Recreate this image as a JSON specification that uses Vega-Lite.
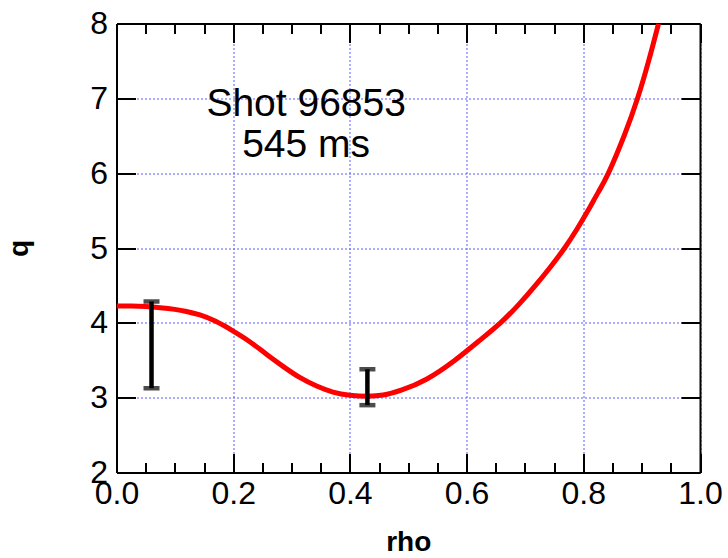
{
  "$schema": "https://vega.github.io/schema/vega-lite/v6.json",
  "width": 583.5,
  "height": 449,
  "autosize": {"type": "none"},
  "padding": {"left": 116.5, "top": 23.5, "right": 28, "bottom": 85.5},
  "background": "white",
  "config": {
    "view": {"stroke": null},
    "font": "Liberation Sans",
    "axis": {
      "labelFont": "Liberation Sans",
      "titleFont": "Liberation Sans",
      "labelColor": "black",
      "titleColor": "black",
      "domainColor": "black",
      "domainWidth": 2,
      "tickColor": "black",
      "tickWidth": 2,
      "labelFlush": false,
      "labelOverlap": false,
      "labelBound": false
    }
  },
  "datasets": {
    "profile": [
      {"rho": 0.0, "q": 4.225},
      {"rho": 0.025, "q": 4.224},
      {"rho": 0.05, "q": 4.218},
      {"rho": 0.075, "q": 4.203},
      {"rho": 0.1, "q": 4.18},
      {"rho": 0.12, "q": 4.152},
      {"rho": 0.143, "q": 4.105},
      {"rho": 0.17, "q": 4.02},
      {"rho": 0.2, "q": 3.89},
      {"rho": 0.229, "q": 3.745},
      {"rho": 0.257, "q": 3.58},
      {"rho": 0.286, "q": 3.415},
      {"rho": 0.314, "q": 3.27},
      {"rho": 0.343, "q": 3.155},
      {"rho": 0.371, "q": 3.075},
      {"rho": 0.4, "q": 3.033},
      {"rho": 0.43, "q": 3.02},
      {"rho": 0.457, "q": 3.035},
      {"rho": 0.488, "q": 3.1},
      {"rho": 0.532, "q": 3.25},
      {"rho": 0.58, "q": 3.5},
      {"rho": 0.62, "q": 3.75},
      {"rho": 0.658, "q": 4.0},
      {"rho": 0.69, "q": 4.25},
      {"rho": 0.718, "q": 4.5},
      {"rho": 0.744, "q": 4.75},
      {"rho": 0.768, "q": 5.0},
      {"rho": 0.789, "q": 5.25},
      {"rho": 0.808, "q": 5.5},
      {"rho": 0.826, "q": 5.75},
      {"rho": 0.843, "q": 6.0},
      {"rho": 0.87, "q": 6.5},
      {"rho": 0.893, "q": 7.0},
      {"rho": 0.912, "q": 7.5},
      {"rho": 0.929, "q": 8.0}
    ],
    "err": [
      {"rho": 0.06, "lo": 3.126, "hi": 4.286},
      {"rho": 0.43, "lo": 2.9, "hi": 3.38}
    ]
  },
  "resolve": {"axis": {"x": "independent", "y": "independent"}},
  "layer": [
    {
      "data": {"name": "profile"},
      "mark": {"type": "line", "color": "#ff0000", "strokeWidth": 5, "interpolate": "natural", "clip": true},
      "encoding": {
        "x": {
          "field": "rho", "type": "quantitative",
          "scale": {"domain": [0, 1], "nice": false, "zero": false},
          "axis": {
            "orient": "bottom", "values": [0, 0.2, 0.4, 0.6, 0.8, 1.0], "format": ".1f",
            "labelFontSize": 32, "labelPadding": 25, "tickSize": -19,
            "grid": true, "gridColor": "#5c5cff", "gridDash": [2, 2], "gridWidth": 1,
            "title": "rho", "titleFontSize": 28, "titleFontWeight": "bold", "titlePadding": 19
          }
        },
        "y": {
          "field": "q", "type": "quantitative",
          "scale": {"domain": [2, 8], "nice": false, "zero": false},
          "axis": {
            "orient": "left", "values": [2, 3, 4, 5, 6, 7, 8], "format": "d",
            "labelFontSize": 32, "labelPadding": 28, "tickSize": -19,
            "grid": true, "gridColor": "#5c5cff", "gridDash": [2, 2], "gridWidth": 1,
            "title": "q", "titleFontSize": 28, "titleFontWeight": "bold", "titlePadding": 56
          }
        }
      }
    },
    {
      "data": {"name": "err"},
      "mark": {"type": "rule", "color": "black", "strokeWidth": 4.5},
      "encoding": {
        "x": {
          "field": "rho", "type": "quantitative",
          "scale": {"domain": [0, 1], "nice": false, "zero": false},
          "axis": {"orient": "top", "values": [0, 0.2, 0.4, 0.6, 0.8, 1.0], "labels": false, "tickSize": -19, "grid": false, "title": null}
        },
        "y": {
          "field": "lo", "type": "quantitative",
          "scale": {"domain": [2, 8], "nice": false, "zero": false},
          "axis": {"orient": "right", "values": [2, 3, 4, 5, 6, 7, 8], "labels": false, "tickSize": -19, "grid": false, "title": null}
        },
        "y2": {"field": "hi"}
      }
    },
    {
      "data": {"name": "err"},
      "mark": {"type": "tick", "orient": "horizontal", "color": "black", "size": 16, "thickness": 4.5},
      "encoding": {
        "x": {
          "field": "rho", "type": "quantitative",
          "scale": {"domain": [0, 1], "nice": false, "zero": false},
          "axis": {"orient": "bottom", "values": [0.05, 0.1, 0.15, 0.25, 0.3, 0.35, 0.45, 0.5, 0.55, 0.65, 0.7, 0.75, 0.85, 0.9, 0.95], "labels": false, "domain": false, "tickSize": -10, "grid": false, "title": null}
        },
        "y": {
          "field": "lo", "type": "quantitative",
          "scale": {"domain": [2, 8], "nice": false, "zero": false},
          "axis": null
        }
      }
    },
    {
      "data": {"name": "err"},
      "mark": {"type": "tick", "orient": "horizontal", "color": "black", "size": 16, "thickness": 4.5},
      "encoding": {
        "x": {
          "field": "rho", "type": "quantitative",
          "scale": {"domain": [0, 1], "nice": false, "zero": false},
          "axis": {"orient": "top", "values": [0.05, 0.1, 0.15, 0.25, 0.3, 0.35, 0.45, 0.5, 0.55, 0.65, 0.7, 0.75, 0.85, 0.9, 0.95], "labels": false, "domain": false, "tickSize": -10, "grid": false, "title": null}
        },
        "y": {
          "field": "hi", "type": "quantitative",
          "scale": {"domain": [2, 8], "nice": false, "zero": false},
          "axis": null
        }
      }
    },
    {
      "data": {"values": [{"label": "Shot 96853", "lx": 0.325, "ly": 6.93}, {"label": "545 ms", "lx": 0.325, "ly": 6.38}]},
      "mark": {"type": "text", "font": "Liberation Sans", "fontSize": 39, "color": "black", "align": "center", "baseline": "middle"},
      "encoding": {
        "x": {"field": "lx", "type": "quantitative", "scale": {"domain": [0, 1], "nice": false, "zero": false}, "axis": null},
        "y": {"field": "ly", "type": "quantitative", "scale": {"domain": [2, 8], "nice": false, "zero": false}, "axis": null},
        "text": {"field": "label"}
      }
    }
  ]
}
